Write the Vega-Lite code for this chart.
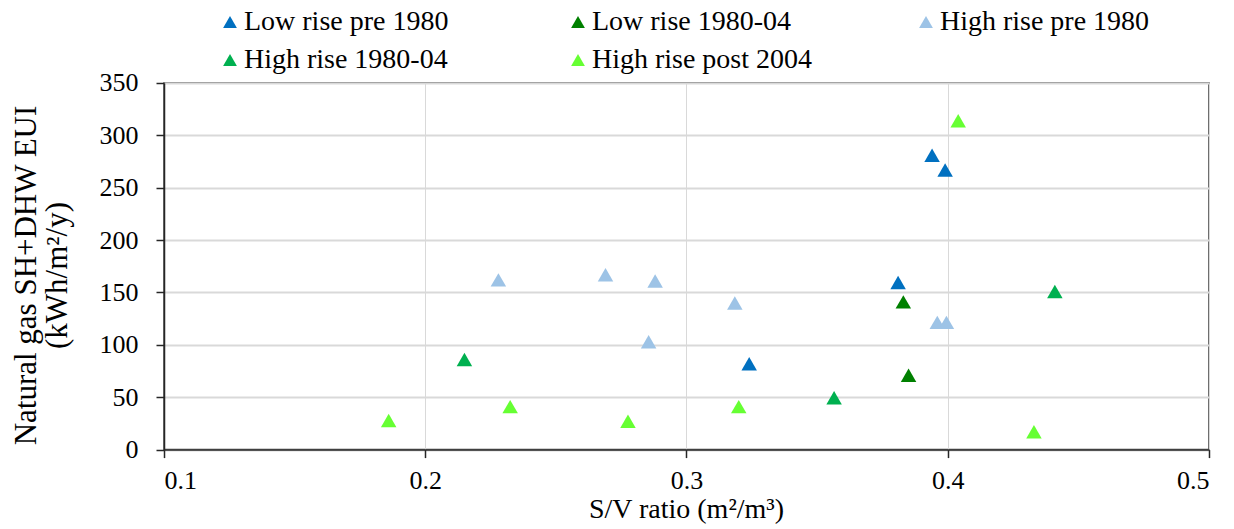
{
  "$schema": "https://vega.github.io/schema/vega-lite/v6.json",
  "width": 1045,
  "height": 366.6,
  "autosize": {"type": "none"},
  "padding": {"left": 164, "top": 83, "right": 25, "bottom": 79},
  "background": "white",
  "config": {
    "font": "Liberation Serif",
    "view": {"stroke": "#404040", "strokeWidth": 1.5},
    "axis": {
      "labelFont": "Liberation Serif",
      "titleFont": "Liberation Serif",
      "labelColor": "black",
      "titleColor": "black",
      "titleFontWeight": "normal",
      "domainColor": "#262626",
      "domainWidth": 1.5,
      "tickColor": "#262626",
      "tickWidth": 1.5,
      "tickSize": 8,
      "gridColor": "#d9d9d9"
    },
    "legend": {
      "labelFont": "Liberation Serif",
      "labelColor": "black"
    }
  },
  "data": {
    "values": [
      {"sv": 0.394, "eui": 281, "type": "Low rise pre 1980"},
      {"sv": 0.399, "eui": 267, "type": "Low rise pre 1980"},
      {"sv": 0.381, "eui": 159.5, "type": "Low rise pre 1980"},
      {"sv": 0.324, "eui": 82, "type": "Low rise pre 1980"},
      {"sv": 0.383, "eui": 141, "type": "Low rise 1980-04"},
      {"sv": 0.385, "eui": 71, "type": "Low rise 1980-04"},
      {"sv": 0.228, "eui": 162, "type": "High rise pre 1980"},
      {"sv": 0.269, "eui": 167, "type": "High rise pre 1980"},
      {"sv": 0.288, "eui": 161, "type": "High rise pre 1980"},
      {"sv": 0.3185, "eui": 140, "type": "High rise pre 1980"},
      {"sv": 0.2855, "eui": 103, "type": "High rise pre 1980"},
      {"sv": 0.396, "eui": 121.5, "type": "High rise pre 1980"},
      {"sv": 0.3995, "eui": 121.5, "type": "High rise pre 1980"},
      {"sv": 0.215, "eui": 86, "type": "High rise 1980-04"},
      {"sv": 0.3565, "eui": 49.5, "type": "High rise 1980-04"},
      {"sv": 0.441, "eui": 151, "type": "High rise 1980-04"},
      {"sv": 0.404, "eui": 314, "type": "High rise post 2004"},
      {"sv": 0.2325, "eui": 41, "type": "High rise post 2004"},
      {"sv": 0.32, "eui": 41, "type": "High rise post 2004"},
      {"sv": 0.186, "eui": 27.7, "type": "High rise post 2004"},
      {"sv": 0.2776, "eui": 27, "type": "High rise post 2004"},
      {"sv": 0.433, "eui": 17, "type": "High rise post 2004"}
    ]
  },
  "mark": {"type": "point", "shape": "triangle-up", "filled": true, "size": 240, "opacity": 1},
  "encoding": {
    "x": {
      "field": "sv",
      "type": "quantitative",
      "scale": {"domain": [0.1, 0.5], "nice": false, "zero": false},
      "axis": {
        "values": [0.1, 0.2, 0.3, 0.4, 0.5],
        "format": ".1f",
        "labelFont": "Liberation Serif",
        "labelFontSize": 26,
        "labelBaseline": "alphabetic",
        "labelPadding": 31,
        "gridWidth": 1,
        "title": "S/V ratio (m²/m³)",
        "titleFont": "Liberation Serif",
        "titleFontSize": 28,
        "titleBaseline": "alphabetic",
        "titleX": 522,
        "titleY": 68
      }
    },
    "y": {
      "field": "eui",
      "type": "quantitative",
      "scale": {"domain": [0, 350], "nice": false},
      "axis": {
        "values": [0, 50, 100, 150, 200, 250, 300, 350],
        "labelFont": "Liberation Serif",
        "labelFontSize": 26,
        "labelPadding": 18,
        "gridWidth": 2,
        "title": ["Natural gas SH+DHW EUI", "(kWh/m²/y)"],
        "titleFont": "Liberation Serif",
        "titleFontSize": 31,
        "titleLineHeight": 32,
        "titleBaseline": "alphabetic",
        "titleAlign": "center",
        "titleAngle": -90,
        "titleX": -129,
        "titleY": 192
      }
    },
    "color": {
      "field": "type",
      "type": "nominal",
      "scale": {
        "domain": ["Low rise pre 1980", "High rise 1980-04", "Low rise 1980-04", "High rise post 2004", "High rise pre 1980"],
        "range": ["#0070C0", "#00B050", "#008000", "#66FF33", "#9DC3E6"]
      },
      "legend": {
        "orient": "none",
        "legendX": 52,
        "legendY": -75,
        "columns": 3,
        "gridAlign": "all",
        "columnPadding": 99,
        "rowPadding": 10,
        "title": null,
        "symbolType": "triangle-up",
        "symbolSize": 190,
        "symbolStrokeWidth": 0,
        "labelFont": "Liberation Serif",
        "labelFontSize": 28,
        "labelOffset": 0,
        "labelLimit": 400
      }
    }
  }
}
